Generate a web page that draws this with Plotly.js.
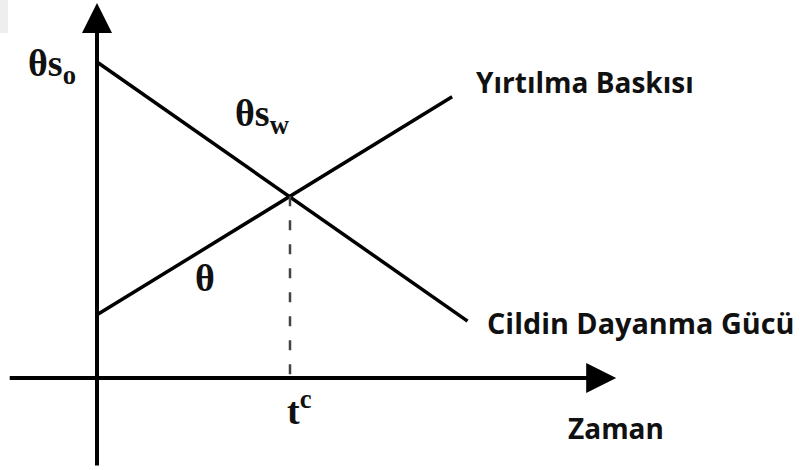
<!DOCTYPE html>
<html><head><meta charset="utf-8">
<script src="https://cdn.plot.ly/plotly-3.0.1.min.js"></script>
<style>html,body{margin:0;padding:0;background:#fff}#chart{width:800px;height:470px}</style>
</head><body><div id="chart"></div><script>
// Schematic values (time units, stress/strength units)
const tCritical = 5;
const strengthTime = [0, 9.6];
const strengthValue = [10, 1.8];
const stressTime = [0, 9.2];
const stressValue = [2, 8.9];
const crossTime = [tCritical, tCritical];
const crossValue = [5.75, 0];
const labelStress = 'Yırtılma Baskısı';
const labelStrength = 'Cildin Dayanma Gücü';
const labelTime = 'Zaman';
const labelStrength0 = 'θs<sub>o</sub>';
const labelStrengthW = 'θs<sub>w</sub>';
const labelTheta = 'θ';
const labelTc = 't<sup>c</sup>';

const W = 800, H = 470;
const px = v => v / W, py = v => 1 - v / H;
const sans = {family: 'Open Sans, sans-serif', size: 28, color: '#111', weight: 'bold'};
const sansWide = {family: 'Open Sans, sans-serif', size: 28.8, color: '#111', weight: 'bold'};
const serif = {family: 'Liberation Serif, serif', size: 38, color: '#111', weight: 'bold'};

const traces = [
  {x: strengthTime, y: strengthValue, mode: 'lines', line: {color: '#000', width: 3.5}, hoverinfo: 'skip'},
  {x: stressTime, y: stressValue, mode: 'lines', line: {color: '#000', width: 3.5}, hoverinfo: 'skip'},
  {x: crossTime, y: crossValue, mode: 'lines', line: {color: '#444', width: 2.5, dash: '10px,14px'}, hoverinfo: 'skip'}
];

const arrow = (x, y, ax, ay) => ({x, y, ax, ay, xref: 'x', yref: 'y', axref: 'x', ayref: 'y', text: '',
  showarrow: true, arrowhead: 2, arrowsize: 1.5, arrowwidth: 4, arrowcolor: '#000', standoff: 0});
const txt = (text, x, y, font, xanchor) => ({text, x: px(x), y: py(y), xref: 'paper', yref: 'paper',
  showarrow: false, font, xanchor: xanchor || 'left', yanchor: 'middle'});

const layout = {
  width: W, height: H, margin: {l: 0, r: 0, t: 0, b: 0}, paper_bgcolor: '#fff', plot_bgcolor: '#fff',
  showlegend: false,
  xaxis: {range: [-97 / 38.6, 703 / 38.6], visible: false, fixedrange: true},
  yaxis: {range: [-92 / 31.6, 378 / 31.6], visible: false, fixedrange: true},
  shapes: [{type: 'rect', xref: 'paper', yref: 'paper', x0: 0, x1: px(8), y0: py(33), y1: 1, fillcolor: '#eeeeee', line: {width: 0}, layer: 'below'}],
  annotations: [
    arrow(13.45, 0, -2.3, 0),
    arrow(0, 11.87, 0, -2.82),
    txt(labelStress, 474, 82, sans),
    txt(labelStrength, 485, 322, sansWide),
    txt(labelTime, 566, 428, sans),
    txt(labelStrength0, 26, 66, serif),
    txt(labelStrengthW, 233, 116, serif),
    txt(labelTheta, 205, 278, serif, 'center'),
    txt(labelTc, 285, 408, serif)
  ]
};
Plotly.newPlot('chart', traces, layout, {staticPlot: true, displayModeBar: false});
</script></body></html>
